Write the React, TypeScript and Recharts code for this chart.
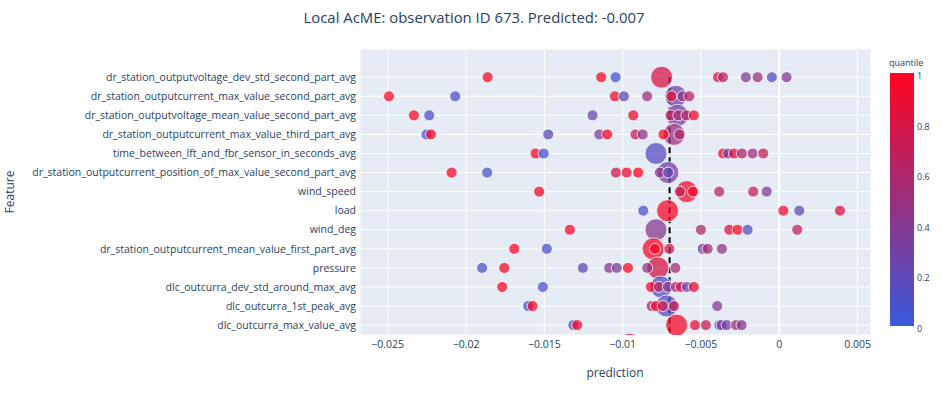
import React from "react";
import { ScatterChart, Scatter, XAxis, YAxis, ZAxis, CartesianGrid, ReferenceLine } from "recharts";

const features = [
  "dr_station_outputvoltage_dev_std_second_part_avg",
  "dr_station_outputcurrent_max_value_second_part_avg",
  "dr_station_outputvoltage_mean_value_second_part_avg",
  "dr_station_outputcurrent_max_value_third_part_avg",
  "time_between_lft_and_fbr_sensor_in_seconds_avg",
  "dr_station_outputcurrent_position_of_max_value_second_part_avg",
  "wind_speed",
  "load",
  "wind_deg",
  "dr_station_outputcurrent_mean_value_first_part_avg",
  "pressure",
  "dlc_outcurra_dev_std_around_max_avg",
  "dlc_outcurra_1st_peak_avg",
  "dlc_outcurra_max_value_avg",
];

// small markers, one list per feature row
const predictions = [
  [-0.01862, -0.01137, -0.01045, -0.00391, -0.00359, -0.00213, -0.00138, -0.00047, 0.00047],
  [-0.02492, -0.02069, -0.01049, -0.00992, -0.00843, -0.00688, -0.00618, -0.00575],
  [-0.02333, -0.02235, -0.01192, -0.00932, -0.00694, -0.00644, -0.00593, -0.00545],
  [-0.02252, -0.02224, -0.01475, -0.01149, -0.01098, -0.00918, -0.00872, -0.00739, -0.00637],
  [-0.01556, -0.01504, -0.00358, -0.00326, -0.00289, -0.00238, -0.0017, -0.00102],
  [-0.02092, -0.01865, -0.01043, -0.00974, -0.00901, -0.00762, -0.00709],
  [-0.01533, -0.00634, -0.00551, -0.00383, -0.00166, -0.0008],
  [-0.00868, 0.00026, 0.00128, 0.00388],
  [-0.01337, -0.005, -0.00319, -0.00266, -0.00202, 0.00115],
  [-0.01692, -0.01484, -0.00794, -0.00702, -0.00489, -0.00457, -0.00366],
  [-0.01897, -0.01756, -0.01254, -0.01086, -0.01037, -0.00966, -0.00843, -0.00663],
  [-0.01769, -0.01509, -0.00819, -0.00768, -0.00711, -0.0066, -0.00628, -0.00589, -0.00545],
  [-0.01603, -0.01575, -0.00815, -0.00787, -0.00743, -0.00672, -0.00396],
  [-0.01315, -0.0129, -0.00538, -0.00468, -0.00383, -0.00368, -0.00336, -0.00276, -0.0024],
];

const quantiles = [
  [0.95, 0.95, 0.05, 0.75, 0.65, 0.35, 0.5, 0.15, 0.4],
  [0.95, 0.1, 0.9, 0.2, 0.5, 0.85, 0.4, 0.6],
  [0.95, 0.1, 0.25, 0.9, 0.7, 0.55, 0.6, 0.9],
  [0.1, 0.95, 0.2, 0.35, 0.95, 0.7, 0.45, 0.95, 0.6],
  [0.95, 0.1, 0.9, 0.3, 0.85, 0.6, 0.5, 0.7],
  [0.95, 0.1, 0.75, 0.85, 1.0, 0.45, 0.25],
  [0.95, 0.7, 0.95, 0.65, 0.7, 0.35],
  [0.1, 0.9, 0.2, 0.8],
  [0.95, 0.6, 0.85, 0.95, 0.15, 0.7],
  [0.95, 0.1, 0.95, 0.75, 0.3, 0.55, 0.45],
  [0.1, 0.95, 0.2, 0.4, 0.35, 0.95, 0.45, 0.55],
  [0.95, 0.1, 0.95, 0.65, 0.4, 0.55, 0.75, 0.25, 0.9],
  [0.1, 0.95, 0.55, 0.95, 0.75, 0.7, 0.4],
  [0.1, 0.95, 0.85, 0.7, 0.15, 0.35, 0.3, 0.5, 0.4],
];

// big markers (observation itself); the 15th sits below the visible range
const obsPrediction = [
  -0.00751, -0.0066, -0.00649, -0.00672, -0.00787, -0.00711, -0.00591,
  -0.00713, -0.00787, -0.00805, -0.00775, -0.00755, -0.00719, -0.00655, -0.00955,
];
const obsQuantile = [0.8, 0.3, 0.3, 0.5, 0.15, 0.3, 0.9, 0.95, 0.4, 0.95, 0.8, 0.15, 0.15, 0.95, 0.85];

const predicted = -0.007;
const xTicks = [-0.025, -0.02, -0.015, -0.01, -0.005, 0, 0.005];
const colorbarTicks = [1, 0.8, 0.6, 0.4, 0.2, 0];

const X_DOMAIN = [-0.02677, 0.00586];
const Y_DOMAIN = [-1.48, 13.52];

const FONT = '"Open Sans", verdana, arial, sans-serif';
const TEXT = "#2a3f5f";

const LOW = [55, 90, 220];
const HIGH = [255, 5, 30];
function quantileColor(q: number) {
  const c = LOW.map((l, i) => Math.round(l + (HIGH[i] - l) * q));
  return `rgb(${c[0]},${c[1]},${c[2]})`;
}

const bigData = obsPrediction.map((x, i) => ({ x, y: i, q: obsQuantile[i], z: 2 }));
const smallData = predictions.flatMap((row, i) =>
  row.map((x, j) => ({ x, y: i, q: quantiles[i][j], z: 1 }))
);

const Marker = (props: any) => {
  const { cx, cy, width, payload } = props;
  if (cx == null || cy == null) return null;
  return (
    <circle
      cx={cx}
      cy={cy}
      r={width / 2}
      fill={quantileColor(payload.q)}
      fillOpacity={0.75}
      stroke="#fff"
      strokeWidth={0.8}
    />
  );
};

const fmt = (v: number) => String(v).replace("-", "\u2212");

export default function App() {
  const cbTop = 73;
  const cbHeight = 253;
  return (
    <div style={{ position: "absolute", left: 0, top: 0, width: 942, height: 395, background: "#fff", fontFamily: FONT }}>
      <div
        style={{
          position: "absolute",
          top: 7,
          left: 3,
          width: 942,
          textAlign: "center",
          fontSize: 14.9,
          color: TEXT,
        }}
      >
        Local AcME: observation ID 673. Predicted: -0.007
      </div>
      <ScatterChart width={942} height={395} margin={{ top: 49, right: 71, bottom: 0, left: 0 }}>
        <CartesianGrid fill="#E5ECF6" stroke="#fff" strokeWidth={1} />
        <XAxis
          type="number"
          dataKey="x"
          domain={X_DOMAIN}
          ticks={xTicks}
          allowDataOverflow
          height={60}
          tickLine={false}
          axisLine={false}
          tickSize={0}
          tickMargin={6}
          tickFormatter={fmt}
          tick={{ fill: TEXT, fontSize: 10.5, fontFamily: FONT }}
        />
        <YAxis
          type="number"
          dataKey="y"
          domain={Y_DOMAIN}
          reversed
          allowDataOverflow
          ticks={features.map((_, i) => i)}
          interval={0}
          width={360}
          tickLine={false}
          axisLine={false}
          tickSize={0}
          tickMargin={4}
          tickFormatter={(i: number) => features[i] ?? ""}
          tick={{ fill: TEXT, fontSize: 10.5, fontFamily: FONT }}
        />
        <ZAxis type="number" dataKey="z" domain={[1, 2]} range={[95, 380]} />
        <ReferenceLine x={0} stroke="#fff" strokeWidth={2} />
        <Scatter data={bigData} shape={Marker} isAnimationActive={false} />
        <Scatter data={smallData} shape={Marker} isAnimationActive={false} />
        <ReferenceLine
          segment={[
            { x: predicted, y: 0 },
            { x: predicted, y: Y_DOMAIN[1] },
          ]}
          stroke="#000"
          strokeWidth={2}
          strokeDasharray="6 4"
        />
      </ScatterChart>
      <div
        style={{
          position: "absolute",
          left: 10 - 40,
          top: 192 - 8,
          width: 80,
          textAlign: "center",
          fontSize: 12,
          color: TEXT,
          transform: "rotate(-90deg)",
          lineHeight: "16px",
        }}
      >
        Feature
      </div>
      <div
        style={{
          position: "absolute",
          left: 615 - 60,
          top: 365,
          width: 120,
          textAlign: "center",
          fontSize: 12,
          color: TEXT,
          lineHeight: "16px",
        }}
      >
        prediction
      </div>
      <div style={{ position: "absolute", left: 889, top: 57, fontSize: 9, color: TEXT, lineHeight: "11px" }}>
        quantile
      </div>
      <div
        style={{
          position: "absolute",
          left: 890,
          top: cbTop,
          width: 24,
          height: cbHeight,
          background: `linear-gradient(to top, ${quantileColor(0)}, ${quantileColor(1)})`,
        }}
      />
      {colorbarTicks.map((t) => (
        <div
          key={t}
          style={{
            position: "absolute",
            left: 917,
            top: cbTop + (1 - t) * cbHeight - 3,
            fontSize: 9,
            color: TEXT,
            lineHeight: "12px",
          }}
        >
          {t}
        </div>
      ))}
    </div>
  );
}
